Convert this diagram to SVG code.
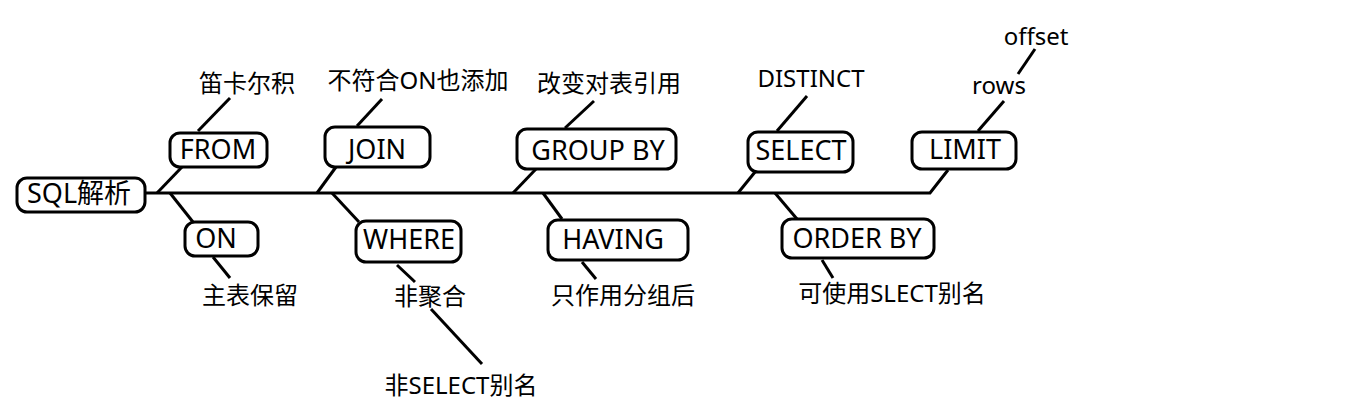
<svg xmlns="http://www.w3.org/2000/svg" width="1358" height="405" viewBox="0 0 1358 405">
<style>
.box{fill:#fff;stroke:#000;stroke-width:3;}
.bt{font-family:"Noto Sans","Noto Sans CJK SC",sans-serif;font-size:27px;fill:#000;text-anchor:middle;dominant-baseline:central;}
.lt{font-family:"Noto Sans","Noto Sans CJK SC",sans-serif;font-size:24px;fill:#000;text-anchor:middle;dominant-baseline:central;}
.ln{stroke:#000;stroke-width:3;fill:none;stroke-linecap:butt;}
</style>
<rect width="1358" height="405" fill="#fff"/>
<g id="connectors">
<polyline class="ln" points="145,193 930,193 948,170"/>
<line class="ln" x1="157" y1="193" x2="182" y2="167"/>
<line class="ln" x1="198" y1="131" x2="230" y2="98"/>
<line class="ln" x1="170" y1="193" x2="193" y2="222"/>
<line class="ln" x1="213" y1="257" x2="230" y2="278"/>
<line class="ln" x1="317" y1="193" x2="336" y2="167"/>
<line class="ln" x1="357" y1="126" x2="382" y2="99"/>
<line class="ln" x1="332" y1="193" x2="359" y2="222"/>
<line class="ln" x1="397" y1="265" x2="415" y2="282"/>
<line class="ln" x1="431" y1="309" x2="482" y2="364"/>
<line class="ln" x1="513" y1="193" x2="536" y2="169"/>
<line class="ln" x1="565" y1="128" x2="594" y2="101"/>
<line class="ln" x1="543" y1="193" x2="562" y2="219"/>
<line class="ln" x1="582" y1="262" x2="596" y2="279"/>
<line class="ln" x1="738" y1="193" x2="755" y2="172"/>
<line class="ln" x1="777" y1="131" x2="807" y2="96"/>
<line class="ln" x1="775" y1="193" x2="797" y2="219"/>
<line class="ln" x1="822" y1="260" x2="833" y2="278"/>
<line class="ln" x1="978" y1="131" x2="1004" y2="101"/>
<line class="ln" x1="1018" y1="74" x2="1035" y2="49"/>
</g>
<g id="sql"><rect class="box" x="17" y="178" width="128" height="34" rx="10"/><text class="bt" x="79" y="192">SQL解析</text></g>
<g id="from"><rect class="box" x="170" y="133" width="97" height="34" rx="10"/><text class="bt" x="218" y="148">FROM</text></g>
<g id="on"><rect class="box" x="185" y="222" width="73" height="34" rx="10"/><text class="bt" x="216" y="237">ON</text></g>
<g id="join"><rect class="box" x="325" y="127" width="105" height="40" rx="10"/><text class="bt" x="377" y="148">JOIN</text></g>
<g id="where"><rect class="box" x="356" y="221" width="105" height="41" rx="10"/><text class="bt" x="409" y="238">WHERE</text></g>
<g id="groupby"><rect class="box" x="517" y="129" width="159" height="40" rx="10"/><text class="bt" x="598" y="149">GROUP BY</text></g>
<g id="having"><rect class="box" x="548" y="220" width="140" height="40" rx="10"/><text class="bt" x="613" y="238">HAVING</text></g>
<g id="select"><rect class="box" x="748" y="132" width="105" height="40" rx="10"/><text class="bt" x="801" y="149">SELECT</text></g>
<g id="limit"><rect class="box" x="912" y="132" width="104" height="37" rx="10"/><text class="bt" x="965" y="148">LIMIT</text></g>
<g id="orderby"><rect class="box" x="782" y="219" width="152" height="39" rx="10"/><text class="bt" x="857" y="237">ORDER BY</text></g>
<g id="labels">
<text class="lt" x="247" y="82">笛卡尔积</text>
<text class="lt" x="250" y="294">主表保留</text>
<text class="lt" x="418" y="79">不符合ON也添加</text>
<text class="lt" x="430" y="295">非聚合</text>
<text class="lt" x="461" y="384">非SELECT别名</text>
<text class="lt" x="609" y="82">改变对表引用</text>
<text class="lt" x="623" y="294">只作用分组后</text>
<text class="lt" x="811" y="77">DISTINCT</text>
<text class="lt" x="999" y="84">rows</text>
<text class="lt" x="1036" y="35">offset</text>
<text class="lt" x="892" y="292">可使用SLECT别名</text>
</g>
</svg>
